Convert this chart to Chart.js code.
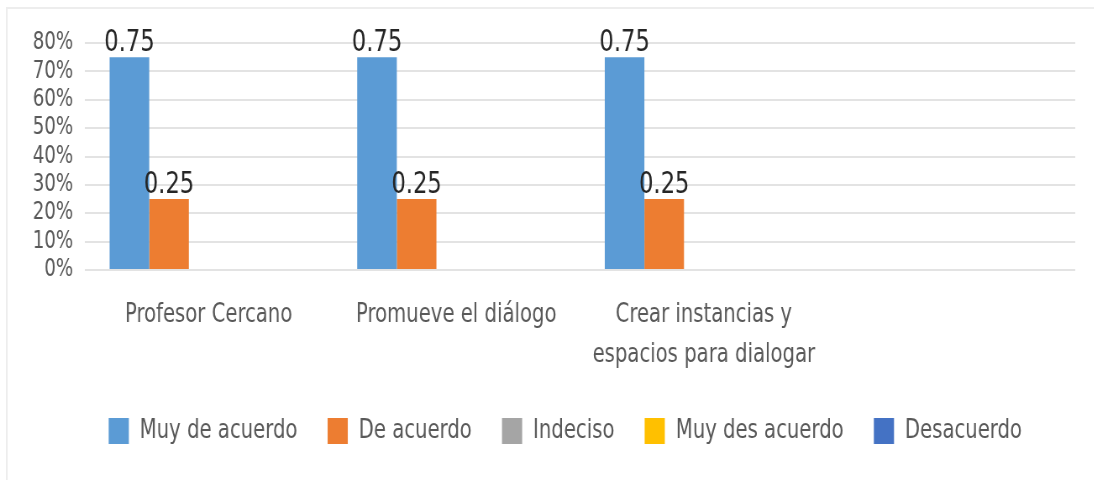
<!DOCTYPE html>
<html>
<head>
<meta charset="utf-8">
<script src="https://cdn.jsdelivr.net/npm/chart.js@4"></script>
<style>
  html, body { margin: 0; padding: 0; background: #fff; overflow: hidden; }
  /* el grafico se dibuja mas ancho y se comprime en horizontal */
  #wrap { width: 1302px; height: 480px; position: relative; transform: scaleX(0.84); transform-origin: 0 0; }
</style>
</head>
<body>
<div id="wrap"><canvas id="encuesta"></canvas></div>
<script>
  // categorias del eje x (la cuarta queda vacia)
  const categorias = ["Profesor Cercano", "Promueve el diálogo", ["Crear instancias y", "espacios para dialogar"], ""];

  const muyDeAcuerdo = [0.75, 0.75, 0.75, null];
  const deAcuerdo = [0.25, 0.25, 0.25, null];
  const indeciso = [null, null, null, null];
  const muyDesAcuerdo = [null, null, null, null];
  const desacuerdo = [null, null, null, null];

  const maxY = 0.8;
  const pasoY = 0.1;

  const fuente = "'Liberation Sans Narrow', 'DejaVu Sans Condensed', 'Liberation Sans', sans-serif";
  const gris = "#595959";
  const sepLeyenda = 36;

  // etiquetas de valor sobre cada barra
  const etiquetas = {
    id: "etiquetas",
    afterDatasetsDraw(chart) {
      const ctx = chart.ctx;
      ctx.save();
      ctx.font = "30px " + fuente;
      ctx.fillStyle = "#262626";
      ctx.textAlign = "center";
      ctx.textBaseline = "alphabetic";
      chart.data.datasets.forEach((ds, i) => {
        const meta = chart.getDatasetMeta(i);
        meta.data.forEach((bar, j) => {
          const v = ds.data[j];
          if (v == null || v === 0) return;
          ctx.fillText(String(v), bar.x, bar.y - 6);
        });
      });
      ctx.restore();
    }
  };

  // marco gris claro y posicion de la leyenda
  const marco = {
    id: "marco",
    afterLayout(chart) {
      const lg = chart.legend;
      const h = lg.bottom - lg.top;
      lg.left = 66;
      lg.top = 418 - sepLeyenda;
      lg.bottom = lg.top + h;
    },
    beforeDraw(chart) {
      const ctx = chart.ctx;
      ctx.save();
      ctx.fillStyle = "#fff";
      ctx.fillRect(0, 0, chart.width, chart.height);
      ctx.strokeStyle = "#ededed";
      ctx.lineWidth = 2;
      ctx.strokeRect(8, 8, chart.width + 20, chart.height + 20);
      ctx.restore();
    }
  };

  const ctx = document.getElementById("encuesta").getContext("2d");
  const myChart = new Chart(ctx, {
    type: "bar",
    data: {
      labels: categorias,
      datasets: [
        { label: "Muy de acuerdo", data: muyDeAcuerdo, backgroundColor: "#5B9BD5" },
        { label: "De acuerdo", data: deAcuerdo, backgroundColor: "#ED7D31" },
        { label: "Indeciso", data: indeciso, backgroundColor: "#A5A5A5" },
        { label: "Muy des acuerdo", data: muyDesAcuerdo, backgroundColor: "#FFC000" },
        { label: "Desacuerdo", data: desacuerdo, backgroundColor: "#4472C4" },
      ],
    },
    options: {
      responsive: true,
      maintainAspectRatio: false,
      animation: false,
      layout: { padding: { left: 0, right: 22, top: 43, bottom: 0 } },
      datasets: { bar: { barPercentage: 1, categoryPercentage: 0.8 } },
      plugins: {
        tooltip: { enabled: false },
        legend: {
          position: "bottom",
          labels: {
            boxWidth: 24,
            boxHeight: 26,
            padding: sepLeyenda,
            color: gris,
            font: { family: fuente, size: 26 },
          },
        },
      },
      scales: {
        x: {
          grid: { display: false },
          border: { display: false },
          ticks: {
            color: gris,
            maxRotation: 0,
            autoSkip: false,
            padding: 17,
            font: { family: fuente, size: 26, lineHeight: 1.55 },
          },
          // el area del grafico termina en y=270
          afterFit(scale) { scale.height = 480 - 270 - (sepLeyenda + 26 + 10); },
        },
        y: {
          min: 0,
          max: maxY,
          grid: { color: "#e3e3e3", lineWidth: 2, drawTicks: false },
          border: { display: false },
          ticks: {
            stepSize: pasoY,
            autoSkip: false,
            color: gris,
            padding: 14,
            font: { family: fuente, size: 24 },
            callback: (v) => Math.round(Number(v) * 100) + "%",
          },
          afterFit(scale) { scale.width = 101; },
        },
      },
    },
    plugins: [marco, etiquetas],
  });
</script>
</body>
</html>
